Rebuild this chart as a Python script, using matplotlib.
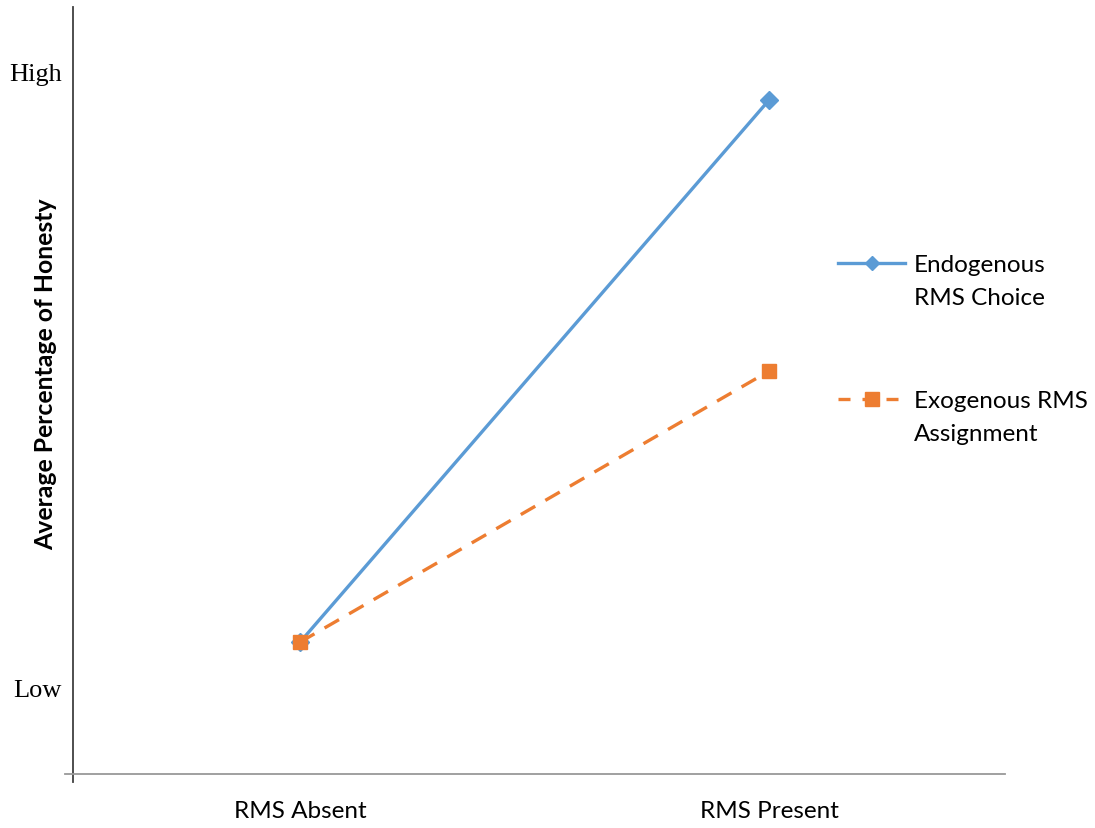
import matplotlib
matplotlib.use('Agg')
import matplotlib.pyplot as plt
from matplotlib.lines import Line2D

# honesty levels on a 0 (Low) .. 100 (High) scale
conditions = ['RMS Absent', 'RMS Present']
endogenous = [7.3, 95.3]
exogenous = [7.3, 51.3]
y_ticks = [0, 100]
y_tick_labels = ['Low', 'High']
series_labels = ['Endogenous\nRMS Choice', 'Exogenous RMS\nAssignment']

blue = '#5B9BD5'
orange = '#ED7D31'
sans = ['Lato', 'DejaVu Sans']
serif = ['Liberation Serif', 'DejaVu Serif']
dash = (0, (5, 3.5))

W, H = 1095, 829
fig = plt.figure(figsize=(W / 100, H / 100), dpi=100)
ax = fig.add_axes([73 / W, 1 - 775 / H, (1005 - 73) / W, (775 - 8) / H])

x = list(range(len(conditions)))
ax.plot(x, endogenous, color=blue, lw=2.4, marker='D', ms=9, zorder=3)
ax.plot(x, exogenous, color=orange, lw=2.4, ls=dash, marker='s', ms=10, zorder=4)

ax.set_xlim(-0.484, 1.503)
ax.set_ylim(-14.1, 110.4)

for s in ax.spines.values():
    s.set_visible(False)
# axis lines, each running a little past the origin
ax.plot([0, 0], [-8 / 767, 1], transform=ax.transAxes, color='#404040', lw=1.3, clip_on=False)
ax.plot([-8 / 932, 1], [0, 0], transform=ax.transAxes, color='#999999', lw=1.3, clip_on=False)

ax.tick_params(length=0)
ax.set_xticks(x)
ax.set_xticklabels(conditions, family=sans, fontsize=17.5)
ax.tick_params(axis='x', pad=19)
ax.set_yticks(y_ticks)
ax.set_yticklabels(y_tick_labels, family=serif, fontsize=19)
ax.tick_params(axis='y', pad=8)

fig.text(46 / W, 1 - 374 / H, 'Average Percentage of Honesty', family=sans, fontsize=17.8,
         fontweight='bold', rotation=90, ha='center', va='center')

# key on the right: handle level with the first text line
def key_entry(y_px, color, ls, marker, ms, label):
    yf = 1 - y_px / H
    fig.add_artist(Line2D([838 / W, 905 / W], [yf, yf], transform=fig.transFigure,
                          color=color, lw=2.4, ls=ls))
    fig.add_artist(Line2D([871.5 / W], [yf], transform=fig.transFigure, color=color,
                          marker=marker, ms=ms, lw=0))
    # multi-line baseline sits on the last line
    fig.text(914 / W, 1 - (y_px + 8 + 33) / H, label, family=sans, fontsize=17.5, ha='left',
             va='baseline', linespacing=1.7, transform=fig.transFigure)

key_entry(264, blue, '-', 'D', 7.5, series_labels[0])
key_entry(400, orange, (0, (3.6, 3.6)), 's', 10, series_labels[1])

fig.savefig('out.png', dpi=100)
